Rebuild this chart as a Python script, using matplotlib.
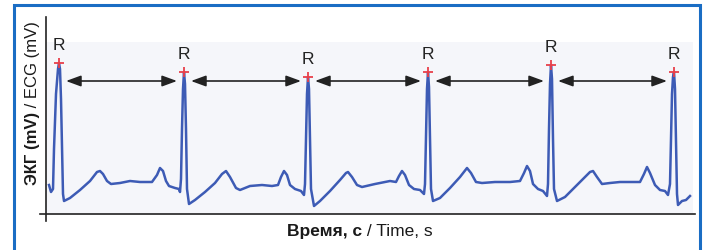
import numpy as np
import matplotlib
matplotlib.use("Agg")
import matplotlib.pyplot as plt
from matplotlib.patches import Rectangle

# ЭКГ: отсчёты (частота 125 Гц) и амплитуда, мВ
fs = 125
ecg_n = [3, 5, 7, 8, 10, 12, 13, 14, 15, 16, 17, 18, 24, 34, 44, 51, 54, 57, 61, 65,
         74, 84, 94, 106, 111, 114, 117, 120, 123, 129, 133, 134,
         135, 136, 137, 138, 139, 140, 141, 143, 149, 159, 169, 176, 180, 184, 190, 194,
         204, 216, 226, 232, 235, 238, 241, 244, 249, 255, 258,
         259, 260, 261, 262, 263, 264, 265, 268, 274, 284, 294, 300, 302, 306, 311, 316,
         329, 344, 350, 353, 356, 359, 363, 368, 374, 378,
         379, 380, 381, 382, 383, 384, 385, 387, 394, 404, 414, 421, 425, 430, 436,
         449, 464, 474, 478, 481, 484, 487, 492, 497, 501,
         502, 503, 504, 505, 506, 507, 508, 511, 519, 529, 539, 544, 547, 551, 556,
         564, 574, 594, 598, 601, 604, 609, 614, 619, 622,
         624, 625, 626, 627, 628, 629, 630, 631, 632, 636, 640, 644]
ecg_mv = [0.04, -0.03, 0.00, 0.40, 0.95, 1.20, 1.26, 1.20, 0.90, 0.40, -0.05, -0.12, -0.09, -0.01, 0.08, 0.17, 0.18, 0.15, 0.08, 0.05,
          0.06, 0.08, 0.07, 0.07, 0.14, 0.21, 0.18, 0.08, 0.03, 0.01, 0.00, -0.03,
          0.10, 0.60, 1.00, 1.17, 1.05, 0.60, 0.00, -0.15, -0.11, -0.03, 0.06, 0.15, 0.18, 0.12, 0.01, -0.01,
          0.03, 0.04, 0.03, 0.04, 0.12, 0.18, 0.14, 0.04, 0.00, -0.02, -0.06,
          0.05, 0.50, 0.95, 1.12, 1.00, 0.50, 0.00, -0.17, -0.12, -0.02, 0.09, 0.16, 0.17, 0.12, 0.04, 0.02,
          0.05, 0.08, 0.07, 0.13, 0.18, 0.14, 0.04, 0.00, -0.01, -0.05,
          0.05, 0.50, 1.00, 1.17, 1.02, 0.50, 0.00, -0.12, -0.09, 0.01, 0.12, 0.21, 0.16, 0.07, 0.06,
          0.07, 0.07, 0.08, 0.16, 0.23, 0.18, 0.05, 0.00, -0.02, -0.07,
          0.05, 0.60, 1.05, 1.24, 1.10, 0.50, 0.00, -0.12, -0.08, 0.02, 0.12, 0.17, 0.18, 0.12, 0.05,
          0.06, 0.07, 0.07, 0.15, 0.22, 0.16, 0.04, -0.01, -0.02, -0.06,
          0.05, 0.50, 0.95, 1.12, 1.17, 1.00, 0.50, -0.05, -0.16, -0.12, -0.11, -0.07]

# R-зубцы (номер отсчёта)
r_n = [13, 138, 262, 382, 505, 628]
rr_arrow_mv = 1.08

t = np.array(ecg_n) / fs
mv = np.array(ecg_mv)
r_t = np.array(r_n) / fs
r_mv = np.array([ecg_mv[ecg_n.index(n)] for n in r_n])

plt.rcParams["font.family"] = ["Liberation Sans", "DejaVu Sans"]

fig = plt.figure(figsize=(7.03, 2.51), dpi=100)
ax = fig.add_axes([40 / 703, 1 - 215 / 251, 655 / 703, 197 / 251])
ax.set_xlim(-6 / fs, 649 / fs)
ax.set_ylim(-0.25, 1.72)

# светлый фон области записи
ax.add_patch(Rectangle((0, -0.25), 647 / fs, 1.72, facecolor="#f5f6fa",
                       edgecolor="none", zorder=0))

ax.plot(t, mv, color="#3d5bb5", lw=1.8, solid_joinstyle="round", zorder=3)
ax.plot(r_t, r_mv, "+", color="#e8404a", ms=6.5, mew=1.3, zorder=4)

for x, y in zip(r_t, r_mv):
    ax.annotate("R", (x, y), xytext=(0, 13), textcoords="offset points",
                ha="center", va="center", fontsize=12.5, color="#222222")

gap = 7 / fs
for a, b in zip(r_t[:-1], r_t[1:]):
    ax.annotate("", xy=(b - gap, rr_arrow_mv), xytext=(a + gap, rr_arrow_mv),
                arrowprops=dict(arrowstyle="<|-|>,head_length=0.6,head_width=0.22",
                                color="#222222", lw=1.2, mutation_scale=15,
                                shrinkA=0, shrinkB=0))

# оси
for s in ["left", "top", "right"]:
    ax.spines[s].set_visible(False)
ax.spines["bottom"].set_color("#222222")
ax.spines["bottom"].set_linewidth(1.2)
ax.plot([0, 0], [-0.32, 1.72], color="#222222", lw=1.2, clip_on=False)
ax.set_xticks([])
ax.set_yticks([])

# подписи
fig.text(362 / 703, 1 - 232 / 251, "Время, с", ha="right", va="center",
         fontsize=12.5, fontweight="bold", color="#1a1a1a")
fig.text(362 / 703, 1 - 232 / 251, " / Time, s", ha="left", va="center",
         fontsize=12.5, color="#1a1a1a")
fig.text(32 / 703, 1 - 112 / 251, "ЭКГ (mV)", ha="center", va="top", rotation=90,
         fontsize=12, fontweight="bold", color="#1a1a1a")
fig.text(32 / 703, 1 - 112 / 251, " / ECG (mV)", ha="center", va="bottom", rotation=90,
         fontsize=12, color="#1a1a1a")

# синяя рамка
fig.add_artist(Rectangle((13.5 / 703, -0.05), 686 / 703, 1.05 - 6 / 251,
                         transform=fig.transFigure, fill=False,
                         edgecolor="#1a6dc4", lw=2.2))

fig.savefig("out.png", dpi=100)
